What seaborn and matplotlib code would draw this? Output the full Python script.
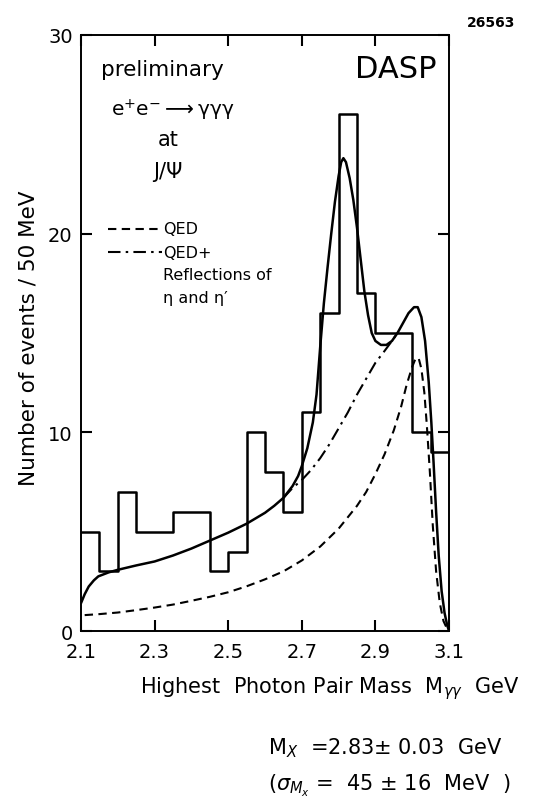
import matplotlib
matplotlib.use("Agg")
import matplotlib.pyplot as plt
import seaborn as sns
import numpy as np
import pandas as pd

# ---------------- data ----------------
bin_left = [2.10, 2.15, 2.20, 2.25, 2.30, 2.35, 2.40, 2.45, 2.50, 2.55,
            2.60, 2.65, 2.70, 2.75, 2.80, 2.85, 2.90, 2.95, 3.00, 3.05]
counts = [5, 3, 7, 5, 5, 6, 6, 3, 4, 10,
          8, 6, 11, 16, 26, 17, 15, 15, 10, 9]
bin_width = 0.05

fit_x = [2.100, 2.110, 2.121, 2.135, 2.147, 2.175, 2.200, 2.250, 2.300, 2.350,
         2.400, 2.450, 2.500, 2.550, 2.600, 2.625, 2.650, 2.675, 2.690, 2.700,
         2.715, 2.730, 2.740, 2.750, 2.760, 2.770, 2.780, 2.790, 2.800, 2.807,
         2.813, 2.820, 2.830, 2.840, 2.850, 2.860, 2.870, 2.880, 2.890, 2.900,
         2.915, 2.930, 2.945, 2.960, 2.975, 2.990, 3.005, 3.015, 3.025, 3.035,
         3.045, 3.052, 3.058, 3.065, 3.072, 3.080, 3.088, 3.095, 3.100]
fit_y = [1.4, 1.85, 2.24, 2.55, 2.75, 2.95, 3.08, 3.3, 3.5, 3.8,
         4.15, 4.55, 4.95, 5.4, 5.95, 6.3, 6.7, 7.3, 7.8, 8.3,
         9.2, 10.5, 11.9, 14.3, 16.5, 18.3, 20.0, 21.6, 22.9, 23.6,
         23.8, 23.6, 22.8, 21.7, 20.3, 18.7, 17.1, 15.9, 15.0, 14.6,
         14.4, 14.4, 14.6, 15.0, 15.5, 16.0, 16.3, 16.3, 15.8, 14.6,
         12.5, 10.5, 8.5, 6.0, 3.8, 2.0, 0.9, 0.3, 0.0]

refl_x = [2.650, 2.675, 2.700, 2.725, 2.750, 2.775, 2.800, 2.825, 2.850, 2.875,
          2.900, 2.925, 2.945, 2.960]
refl_y = [6.7, 7.2, 7.6, 8.1, 8.7, 9.4, 10.2, 11.0, 11.9, 12.7,
          13.5, 14.1, 14.6, 15.0]

qed_x = [2.110, 2.150, 2.200, 2.250, 2.300, 2.350, 2.400, 2.450, 2.500, 2.550,
         2.600, 2.650, 2.700, 2.750, 2.800, 2.850, 2.875, 2.900, 2.925, 2.950,
         2.970, 2.985, 3.000, 3.010, 3.018, 3.025, 3.033, 3.040, 3.048, 3.056,
         3.065, 3.075, 3.085, 3.095]
qed_y = [0.8, 0.85, 0.93, 1.05, 1.18, 1.33, 1.52, 1.72, 1.95, 2.25,
         2.6, 3.0, 3.55, 4.25, 5.15, 6.3, 7.0, 7.9, 8.9, 10.1,
         11.3, 12.4, 13.3, 13.75, 13.7, 13.2, 12.0, 10.3, 8.0, 5.3,
         3.0, 1.4, 0.5, 0.1]

x_ticks = [2.1, 2.3, 2.5, 2.7, 2.9, 3.1]
x_tick_labels = ["2.1", "2.3", "2.5", "2.7", "2.9", "3.1"]
y_ticks = [0, 10, 20, 30]
y_tick_labels = ["0", "10", "20", "30"]

# ---------------- figure ----------------
sns.set_theme(style="white")
plt.rcParams['font.family'] = ['DejaVu Sans']
plt.rcParams['mathtext.fontset'] = 'dejavusans'

W, H = 552, 812
fig = plt.figure(figsize=(W / 100, H / 100), dpi=100)
fig.patch.set_facecolor("white")
L, R, T, B = 81, 449, 36, 632
ax = fig.add_axes([L / W, 1 - B / H, (R - L) / W, (B - T) / H])
ax.set_facecolor("white")

hist_df = pd.DataFrame({"mass": [b + bin_width / 2 for b in bin_left], "n": counts})
edges = [bin_left[0] + i * bin_width for i in range(len(bin_left) + 1)]
sns.histplot(data=hist_df, x="mass", weights="n", bins=edges, element="step",
             fill=False, color="black", linewidth=1.8, ax=ax)

sns.lineplot(x=fit_x, y=fit_y, color="black", linewidth=1.8, ax=ax, sort=False)
sns.lineplot(x=refl_x, y=refl_y, color="black", linewidth=1.5, ax=ax, sort=False)
ax.lines[-1].set_dashes([6, 2.5, 1.2, 2.5])
sns.lineplot(x=qed_x, y=qed_y, color="black", linewidth=1.5, ax=ax, sort=False)
ax.lines[-1].set_dashes([4, 2.6])

ax.set_xlim(2.1, 3.1)
ax.set_ylim(0, 30)
ax.set_xticks(x_ticks)
ax.set_xticklabels(x_tick_labels)
ax.set_yticks(y_ticks)
ax.set_yticklabels(y_tick_labels)
ax.tick_params(direction="in", length=8, width=1.5, labelsize=14, colors="black",
               top=True, right=True, bottom=True, left=True, pad=6)
ax.tick_params(axis="x", pad=8)
for sp in ax.spines.values():
    sp.set_color("black")
    sp.set_linewidth(1.4)

ax.set_xlabel(r"Highest  Photon Pair Mass  M$_{\gamma\gamma}$  GeV", fontsize=15,
              color="black", ha="left")
ax.xaxis.set_label_coords((140 - L) / (R - L), (B - 675) / (B - T))
ax.set_ylabel("Number of events / 50 MeV", fontsize=15.5, color="black")
ax.yaxis.set_label_coords((38 - L) / (R - L), (B - 338) / (B - T))

def ftext(x, y, s, **kw):
    fig.text(x / W, 1 - y / H, s, color="black", **kw)

ftext(101, 70, "preliminary", fontsize=15.5, va="center", ha="left")
ftext(111, 110, r"e$^{+}$e$^{-}$$\longrightarrow$γγγ", fontsize=14.5, va="center", ha="left")
ftext(168, 140, "at", fontsize=15, va="center", ha="center")
ftext(168, 172, "J/Ψ", fontsize=15, va="center", ha="center")
ftext(437, 70, "DASP", fontsize=22, va="center", ha="right")
ftext(515, 23, "26563", fontsize=10, va="center", ha="right", fontweight="bold")

# legend drawn by hand inside the axes
def to_data(px, py):
    return (2.1 + (px - L) / (R - L) * 1.0, (B - py) / (B - T) * 30)
a0 = to_data(108, 230); a1 = to_data(158, 230)
ax.plot([a0[0], a1[0]], [a0[1], a1[1]], color="black", lw=1.5, dashes=[4, 2.6])
b0 = to_data(108, 253); b1 = to_data(162, 253)
ax.plot([b0[0], b1[0]], [b0[1], b1[1]], color="black", lw=1.5, dashes=[6, 2.5, 1.2, 2.5])
ftext(163, 230, "QED", fontsize=11.5, va="center", ha="left")
ftext(163, 253, "QED+", fontsize=11.5, va="center", ha="left")
ftext(163, 276, "Reflections of", fontsize=11.5, va="center", ha="left")
ftext(163, 298, "η and η′", fontsize=11.5, va="center", ha="left")

ftext(268, 748, r"M$_{X}$  =2.83± 0.03  GeV", fontsize=15, va="center", ha="left")
ftext(268, 786, r"($\sigma_{M_x}$ =  45 ± 16  MeV  )", fontsize=15, va="center", ha="left")

fig.savefig("out.png", dpi=100, facecolor="white")
